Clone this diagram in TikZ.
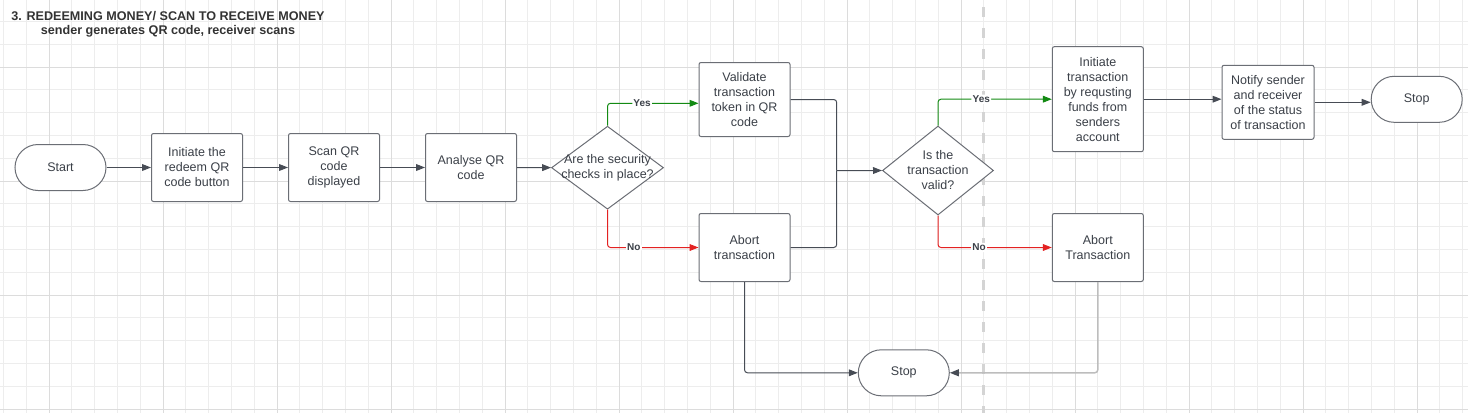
\documentclass[tikz,border=0pt]{standalone}
\usepackage{fontspec}
\setmainfont{Liberation Sans}
\usetikzlibrary{shapes.geometric,arrows.meta}

\definecolor{gridminor}{HTML}{EDEDED}
\definecolor{gridmajor}{HTML}{DCDCDC}
\definecolor{boxline}{HTML}{6B6E75}
\definecolor{textgrey}{HTML}{3B4048}
\definecolor{flowline}{HTML}{474C55}
\definecolor{fadeline}{HTML}{BDBDBD}
\definecolor{yesgreen}{HTML}{138A13}
\definecolor{nored}{HTML}{E32222}
\definecolor{splitgrey}{HTML}{D4D4D4}

\begin{document}
\begin{tikzpicture}[x=0.5pt, y=-0.5pt,
		every node/.style={font=\fontsize{6.25}{7.5}\selectfont, text=textgrey},
		box/.style={draw=boxline, line width=0.5pt, fill=white, rounded corners=1pt, align=center,
			minimum width=45.5pt, minimum height=34pt, inner sep=1pt},
		term/.style={box, rounded corners=11.5pt, minimum height=23pt},
		dec/.style={draw=boxline, line width=0.5pt, fill=white, diamond, inner sep=0pt},
		flow/.style={draw=flowline, line width=0.5pt, rounded corners=1.5pt, -{Triangle[length=4.5pt,width=3.4pt]}},
		yes/.style={flow, draw=yesgreen},
		no/.style={flow, draw=nored},
		ans/.style={font=\bfseries\fontsize{5}{6}\selectfont, fill=white, inner sep=0.6pt},
		title/.style={font=\bfseries\fontsize{6.3}{7}\selectfont, text=black!80, align=center, inner sep=0pt}]

		\useasboundingbox (0,0) rectangle (1468,413);

		\foreach \k in {-2,...,62}
			\draw[gridminor, line width=0.5pt] ({49+22.8*\k},0) -- ({49+22.8*\k},413);
		\foreach \k in {-2,...,15}
			\draw[gridminor, line width=0.5pt] (0,{67+22.8*\k}) -- (1468,{67+22.8*\k});
		\foreach \k in {0,...,12}
			\draw[gridmajor, line width=0.5pt] ({49+114*\k},0) -- ({49+114*\k},413);
		\foreach \k in {0,...,3}
			\draw[gridmajor, line width=0.5pt] (0,{67+114*\k}) -- (1468,{67+114*\k});

		\draw[splitgrey, line width=1.5pt, dash pattern=on 5pt off 5.5pt] (983,7) -- (983,413);

		\node[title, anchor=north] (heading) at (168,11) {3. REDEEMING MONEY/ SCAN TO RECEIVE MONEY\\sender generates QR code, receiver scans};

		\node[term] (start) at (60.5,167.5) {Start};
		\node[box] (redeem) at (197,167.5) {Initiate the\\redeem QR\\code button};
		\node[box] (scan) at (334,167.5) {Scan QR\\code\\displayed};
		\node[box] (analyse) at (471,167.5) {Analyse QR\\code};
		\node[dec, minimum width=56pt, minimum height=41.5pt,
			label={[align=center]center:Are the security\\checks in place?}] (checks) at (607.5,167.7) {};
		\node[box, minimum height=37pt] (validate) at (744.5,99.5) {Validate\\transaction\\token in QR\\code};
		\node[box] (abort) at (744.5,247.5) {Abort\\transaction};
		\coordinate (merge) at (836.7,170.7);
		\node[dec, minimum width=55.5pt, minimum height=44.5pt,
			label={[align=center]center:Is the\\transaction\\valid?}] (valid) at (938,170.5) {};
		\node[box, minimum height=52.5pt] (request) at (1097.8,99.2) {Initiate\\transaction\\by requsting\\funds from\\senders\\account};
		\node[box] (abortT) at (1097.8,247.5) {Abort\\Transaction};
		\node[box, minimum width=46pt, minimum height=37pt] (notify) at (1268,102.3) {Notify sender\\and receiver\\of the status\\of transaction};
		\node[term] (stopA) at (1416.7,99.3) {Stop};
		\node[term] (stopB) at (903.8,372.8) {Stop};

		\draw[flow] (start) -- (redeem);
		\draw[flow] (redeem) -- (scan);
		\draw[flow] (scan) -- (analyse);
		\draw[flow] (analyse) -- (checks);
		\draw[yes] (checks.north) |- node[ans, pos=0.69] {Yes} ([yshift=-1.9pt]validate.west);
		\draw[no] (checks.south) |- node[ans, pos=0.645] {No} (abort.west);
		\draw[flow, -] (validate.east) -| (merge);
		\draw[flow, -] (abort.east) -| (merge);
		\draw[flow] (merge) -- (valid.west);
		\draw[yes] (valid.north) |- node[ans, pos=0.69] {Yes} (request.west);
		\draw[no] (valid.south) |- node[ans, pos=0.68] {No} (abortT.west);
		\draw[flow] (request.east) -- (request.east -| notify.west);
		\draw[flow] (notify.east) -- (notify.east -| stopA.west);
		\draw[flow] (abort.south) |- (stopB.west);
		\draw[flow, draw=fadeline, line width=0.75pt, -{Triangle[length=4.5pt,width=3.4pt,color=flowline,fill=flowline]}] (abortT.south) |- (stopB.east);
	\end{tikzpicture}
\end{document}
